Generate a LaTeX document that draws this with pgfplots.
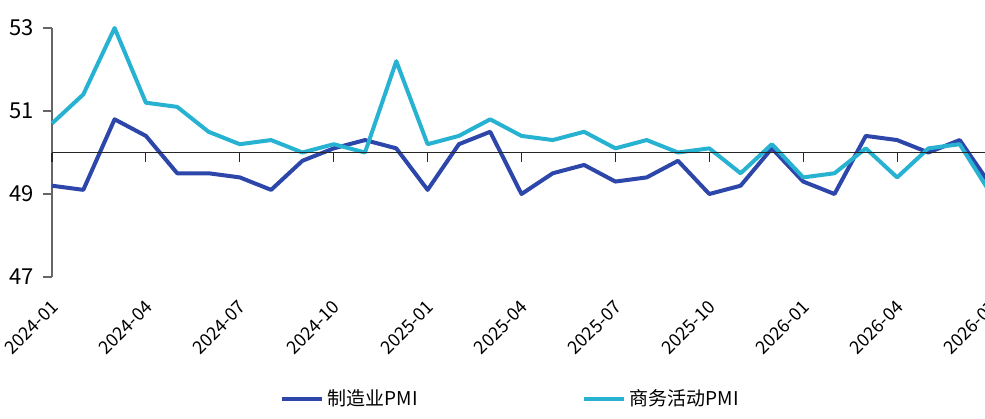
\documentclass[border=0pt]{standalone}
\usepackage{pgfplots}
\pgfplotsset{compat=1.18}
\usepackage{fontspec}
\setmainfont{Noto Sans CJK SC}
\definecolor{mfg}{RGB}{44,70,170}
\definecolor{svc}{RGB}{40,178,210}
\begin{document}
\begin{tikzpicture}
\useasboundingbox (-26pt,-70.5pt) rectangle (466.5pt,138.5pt);
\begin{axis}[
  at={(0,0)}, anchor=south west,
  scale only axis, width=469.5pt, height=124.5pt,
  xmin=0, xmax=30, ymin=47, ymax=53,
  axis x line=none, axis y line*=left,
  y axis line style={gray!80!black, line width=0.6pt},
  ytick={47,49,51,53},
  ytick style={gray!80!black, line width=0.6pt},
  tick align=outside, major tick length=4.5pt,
  yticklabel style={font=\fontsize{11}{12}\selectfont, xshift=-1pt},
  /pgf/number format/assume math mode=true,
  clip=false,
  legend columns=2,
  legend style={draw=none, at={(0.489,-0.49)}, anchor=center,
    font=\fontsize{9.5}{11}\selectfont, /tikz/every even column/.append style={column sep=80pt}},
  legend image code/.code={\draw[#1] (0pt,0pt) -- (20pt,0pt);},
]
\addplot[mfg, line width=2pt, line join=round] coordinates {
(0,49.2) (1,49.1) (2,50.8) (3,50.4) (4,49.5) (5,49.5) (6,49.4) (7,49.1) (8,49.8) (9,50.1)
(10,50.3) (11,50.1) (12,49.1) (13,50.2) (14,50.5) (15,49.0) (16,49.5) (17,49.7) (18,49.3) (19,49.4)
(20,49.8) (21,49.0) (22,49.2) (23,50.1) (24,49.3) (25,49.0) (26,50.4) (27,50.3) (28,50.0) (29,50.3) (30,49.2)};
\addlegendentry{制造业PMI}
\addplot[svc, line width=2pt, line join=round] coordinates {
(0,50.7) (1,51.4) (2,53.0) (3,51.2) (4,51.1) (5,50.5) (6,50.2) (7,50.3) (8,50.0) (9,50.2)
(10,50.0) (11,52.2) (12,50.2) (13,50.4) (14,50.8) (15,50.4) (16,50.3) (17,50.5) (18,50.1) (19,50.3)
(20,50.0) (21,50.1) (22,49.5) (23,50.2) (24,49.4) (25,49.5) (26,50.1) (27,49.4) (28,50.1) (29,50.2) (30,49.0)};
\addlegendentry{商务活动PMI}
\draw[black!85, line width=0.6pt] (axis cs:0,50) -- (axis cs:30,50);
\pgfplotsinvokeforeach{0,3,6,9,12,15,18,21,24,27,30}{
  \draw[black!85, line width=0.6pt] (axis cs:#1,50) -- ([yshift=-4.5pt]axis cs:#1,50);
}
\pgfplotsforeachungrouped \i/\lab in {0/2024-01,3/2024-04,6/2024-07,9/2024-10,12/2025-01,15/2025-04,18/2025-07,21/2025-10,24/2026-01,27/2026-04,30/2026-07}{
  \edef\temp{\noexpand\node[rotate=45, anchor=north east, inner sep=0pt, font=\noexpand\fontsize{9}{10}\noexpand\selectfont] at ([xshift=-1pt,yshift=-11pt]axis cs:\i,47) {\lab};}
  \temp
}
\end{axis}
\end{tikzpicture}
\end{document}
